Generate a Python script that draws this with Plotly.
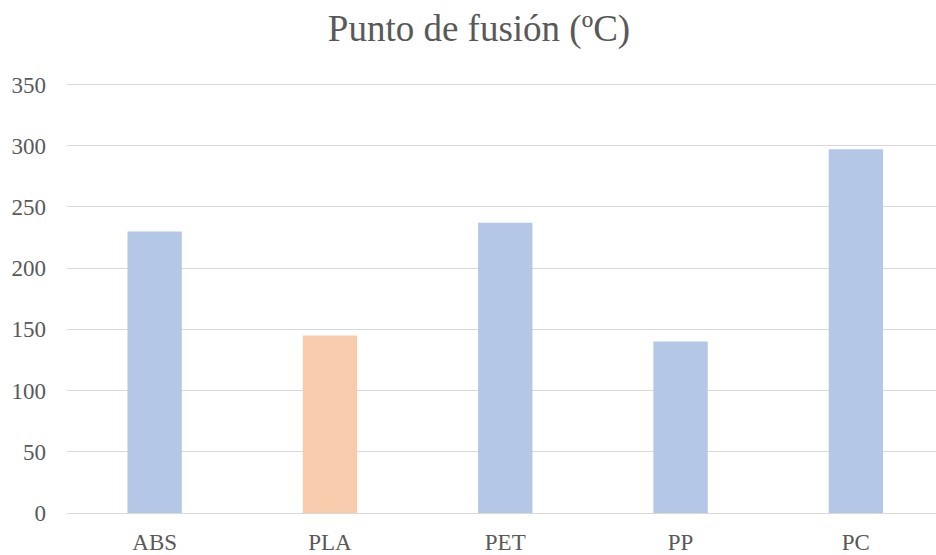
import plotly.graph_objects as go

categories = ["ABS", "PLA", "PET", "PP", "PC"]
values = [230, 145, 237, 140, 297]
colors = ["#B4C7E7", "#F8CBAD", "#B4C7E7", "#B4C7E7", "#B4C7E7"]
y_ticks = [0, 50, 100, 150, 200, 250, 300, 350]
title_text = "Punto de fusión (ºC)"

fig = go.Figure(go.Bar(x=categories, y=values, marker=dict(color=colors, line=dict(width=0)), width=0.31,
                       hoverinfo="skip"))

font_family = "Liberation Serif, Times New Roman, serif"
fig.update_layout(
    width=936, height=555,
    margin=dict(l=67, r=0, t=82, b=42, autoexpand=False),
    paper_bgcolor="white", plot_bgcolor="white",
    showlegend=False,
    title=dict(text=title_text, font=dict(family=font_family, size=37, color="#595959"),
               x=479/936, xref="container", xanchor="center",
               y=1 - 28/555, yref="container", yanchor="middle"),
    font=dict(family=font_family, color="#595959"),
)
fig.update_xaxes(range=[-0.5, 4.457], showgrid=False, showline=True, linecolor="#D9D9D9", linewidth=1,
                 automargin=False,
                 tickfont=dict(size=23, family=font_family, color="#595959"), ticks="", ticklabelstandoff=8)
fig.update_yaxes(range=[0, 352], tickvals=y_ticks, showgrid=True, gridcolor="#D9D9D9", gridwidth=1,
                 zeroline=False, showline=False, automargin=False,
                 tickfont=dict(size=23, family=font_family, color="#595959"), ticks="", ticklabelstandoff=20)

fig.write_html("out.html", config={"displayModeBar": False},
               post_script="document.body.style.margin='0';document.body.style.overflow='hidden';")
